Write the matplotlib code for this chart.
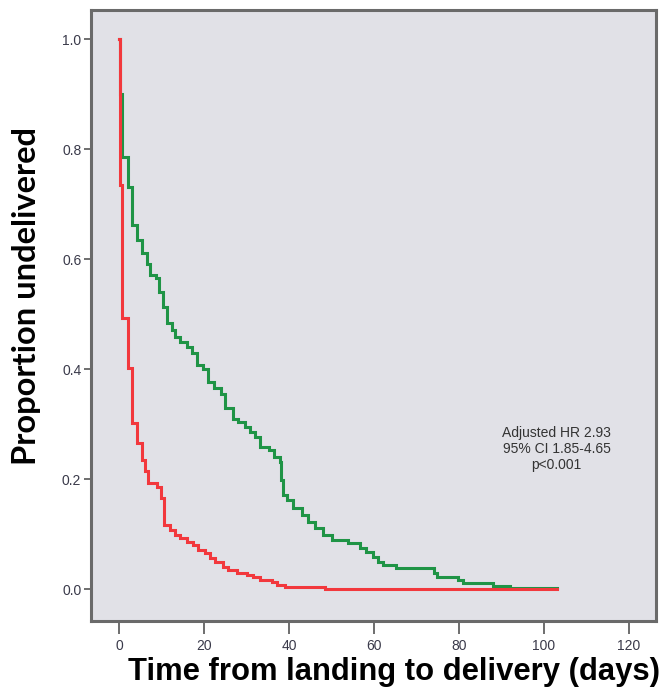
import matplotlib
matplotlib.use("Agg")
import matplotlib.pyplot as plt
import numpy as np

# Kaplan-Meier step data (days, proportion undelivered after each step)
red_times = [0, 0.2, 0.8, 2.0, 3.0, 4.2, 5.3, 6.1, 6.8, 8.9, 9.8, 10.6, 12.0, 13.2, 14.4,
             16.0, 17.4, 18.6, 20.2, 21.4, 22.6, 24.5, 25.6, 27.8, 30.1, 31.5, 33.2, 36.0,
             37.2, 39.1, 48.5, 103.0]
red_surv = [1.0, 0.735, 0.493, 0.402, 0.302, 0.265, 0.235, 0.215, 0.193, 0.185, 0.165, 0.116,
            0.107, 0.098, 0.093, 0.085, 0.080, 0.071, 0.065, 0.056, 0.049, 0.040, 0.035, 0.029,
            0.025, 0.022, 0.016, 0.013, 0.007, 0.004, 0.0, 0.0]

green_times = [0, 0.2, 0.8, 2.0, 3.1, 4.2, 5.3, 6.5, 7.3, 8.7, 9.4, 10.4, 11.4, 12.5, 13.2,
               14.4, 16.0, 17.2, 18.4, 19.8, 20.9, 22.4, 24.0, 24.9, 26.8, 28.0, 29.6, 30.8,
               32.0, 33.2, 35.3, 36.5, 37.9, 38.1, 38.6, 39.5, 40.9, 43.1, 44.5, 46.1, 48.0,
               50.1, 53.9, 56.7, 58.1, 59.8, 60.9, 62.1, 65.2, 74.1, 74.8, 79.8, 80.9, 88.0,
               92.0, 103.1]
green_surv = [1.0, 0.900, 0.785, 0.731, 0.662, 0.635, 0.611, 0.591, 0.571, 0.565, 0.540, 0.513,
              0.484, 0.471, 0.458, 0.449, 0.440, 0.429, 0.407, 0.400, 0.376, 0.365, 0.355,
              0.329, 0.309, 0.304, 0.295, 0.285, 0.276, 0.258, 0.253, 0.240, 0.231, 0.198,
              0.171, 0.162, 0.147, 0.135, 0.122, 0.111, 0.098, 0.089, 0.084, 0.075, 0.067,
              0.058, 0.049, 0.044, 0.038, 0.029, 0.022, 0.016, 0.011, 0.005, 0.002, 0.002]

x_ticks = [0, 20, 40, 60, 80, 100, 120]
y_ticks = [0.0, 0.2, 0.4, 0.6, 0.8, 1.0]
annotation = "Adjusted HR 2.93\n95% CI 1.85-4.65\np<0.001"

fig = plt.figure(figsize=(6.67, 6.94), dpi=100)
ax = fig.add_axes([91/667, 1 - 621/694, (656-91)/667, (621-10)/694])
ax.set_facecolor('#e1e1e7')

ax.step(green_times, green_surv, where='post', color='#1f9446', lw=2.2, solid_joinstyle='miter')
ax.step(red_times, red_surv, where='post', color='#f2383d', lw=2.2, solid_joinstyle='miter')

ax.set_xlim(-6.6, 126.4)
ax.set_ylim(-0.058, 1.053)
ax.set_xticks(x_ticks)
ax.set_yticks(y_ticks)
ax.set_yticklabels([f"{v:.1f}" for v in y_ticks])
ax.tick_params(axis='x', direction='out', length=9, width=1.2, color='#555555', pad=4,
               labelsize=10, labelcolor='#3a3a4a')
ax.tick_params(axis='y', direction='out', length=5, width=1.2, color='#555555', pad=2,
               labelsize=10, labelcolor='#3a3a4a')
for lab in ax.get_xticklabels() + ax.get_yticklabels():
    lab.set_fontfamily('Liberation Sans')

for s in ax.spines.values():
    s.set_color('#6a6a6a')
    s.set_linewidth(2.2)

ax.text(103, 0.255, annotation, ha='center', va='center', fontsize=10,
        family='Liberation Sans', color='#333333', linespacing=1.2)

fig.text(27/667, 1 - 296/694, "Proportion undelivered", rotation=90, ha='center', va='center',
         fontsize=23.5, fontweight='bold', family='Lato', color='#000000')
fig.text(394/667, 1 - 672/694, "Time from landing to delivery (days)", ha='center', va='center',
         fontsize=22.3, fontweight='bold', family='Liberation Sans', color='#000000')

fig.savefig('out.png', dpi=100, facecolor='white')
